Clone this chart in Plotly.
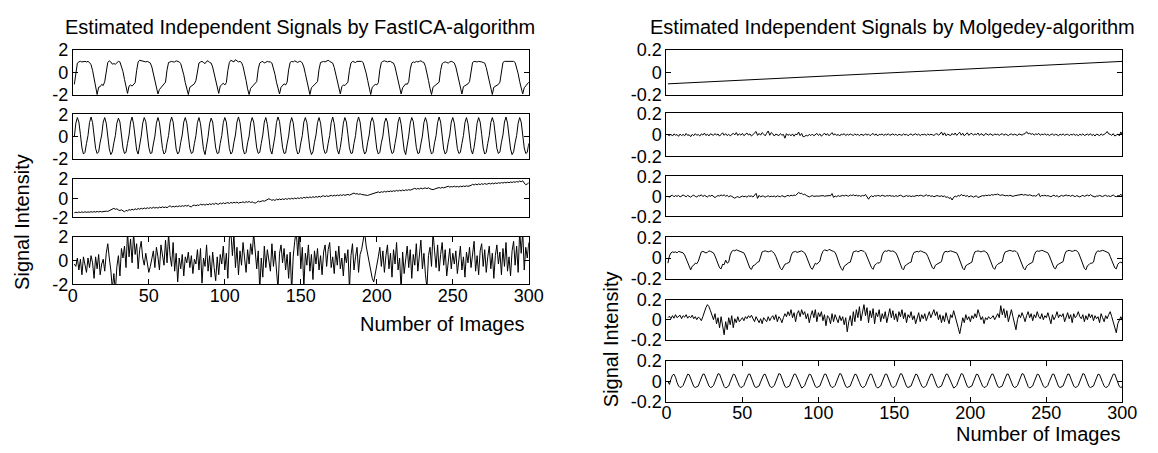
import plotly.graph_objects as go

# ---------------- data ----------------
fastica_1 = [
    -1.05, 0.15, 0.85, 0.95, 1.0, 0.95, 1.0, 1.0, 0.95, 1.0, 0.9, 0.7, 0.2, -0.5, -1.2, -1.95, -1.3, -1.25, -1.05, -1.15,
    -0.8, 0.3, 0.9, 1.05, 0.95, 0.75, 0.8, 0.75, 0.9, 1.0, 0.95, 0.6, 0.1, -0.6, -1.3, -1.85, -1.2, -1.1, -1.2, -1.0,
    -0.9, 0.2, 0.95, 1.1, 1.05, 1.0, 1.0, 0.95, 1.0, 0.9, 0.85, 0.5, -0.1, -0.8, -1.4, -1.9, -1.5, -1.35, -1.2, -1.05,
    -0.85, 0.25, 0.9, 0.95, 1.0, 0.95, 0.95, 1.05, 1.0, 0.95, 0.8, 0.4, -0.2, -0.9, -1.5, -1.95, -1.3, -1.2, -1.15, -1.0,
    -0.7, 0.3, 0.85, 0.95, 1.0, 0.9, 0.8, 1.0, 1.05, 0.9, 0.85, 0.5, -0.1, -0.8, -1.4, -1.85, -1.2, -1.1, -0.95, -1.1,
    -0.9, 0.2, 0.9, 1.1, 1.0, 0.95, 1.15, 1.0, 0.95, 1.0, 0.9, 0.55, 0.0, -0.7, -1.45, -1.95, -1.4, -1.25, -1.15, -1.0,
    -0.8, 0.3, 0.85, 0.95, 1.0, 0.85, 0.9, 1.0, 0.95, 0.95, 0.85, 0.45, -0.15, -0.85, -1.5, -1.9, -1.3, -1.15, -1.0, -1.1,
    -0.85, 0.25, 0.9, 1.0, 0.95, 1.05, 1.0, 0.9, 1.0, 1.0, 0.85, 0.5, -0.1, -0.75, -1.4, -1.95, -1.35, -1.2, -1.05, -0.95,
    -0.8, 0.3, 0.9, 0.95, 1.0, 0.95, 1.05, 1.1, 1.0, 0.9, 0.85, 0.45, -0.1, -0.8, -1.45, -1.9, -1.25, -1.1, -1.15, -1.0,
    -0.85, 0.2, 0.85, 1.0, 0.95, 0.9, 1.0, 1.0, 0.95, 1.0, 0.9, 0.5, -0.05, -0.7, -1.4, -1.95, -1.3, -1.2, -1.05, -1.1,
    -0.9, 0.25, 0.9, 1.0, 1.05, 1.0, 0.95, 1.0, 1.0, 0.9, 0.85, 0.5, -0.1, -0.8, -1.45, -1.9, -1.35, -1.15, -1.0, -1.05,
    -0.8, 0.3, 0.85, 0.95, 0.9, 1.0, 0.95, 1.0, 1.05, 0.95, 0.9, 0.55, 0.0, -0.7, -1.4, -1.95, -1.3, -1.2, -1.1, -1.0,
    -0.85, 0.2, 0.8, 0.9, 0.95, 0.9, 0.85, 0.95, 1.0, 0.95, 0.85, 0.5, -0.1, -0.8, -1.45, -1.9, -1.25, -1.15, -1.05, -1.0,
    -0.8, 0.3, 0.9, 1.0, 0.95, 0.95, 1.0, 1.0, 0.95, 0.9, 0.85, 0.45, -0.15, -0.85, -1.5, -1.95, -1.3, -1.2, -1.1, -1.05,
    -0.85, 0.25, 0.9, 1.0, 1.0, 0.95, 1.0, 0.95, 1.0, 1.0, 0.9, 0.5, -0.1, -0.8, -1.45, -1.9, -1.35, -1.2, -1.0, -0.85,
]

fastica_2 = [
    0.0, 1.2, 1.7, 1.3, 0.2, -1.0, -1.55, -1.4, -0.6,
    0.1, 1.25, 1.75, 1.25, 0.1, -1.05, -1.5, -1.35, -0.5,
    0.15, 1.3, 1.7, 1.2, 0.05, -1.1, -1.6, -1.35, -0.55,
    0.1, 1.2, 1.65, 1.3, 0.2, -1.0, -1.5, -1.4, -0.6,
    0.15, 1.3, 1.75, 1.1, -0.1, -1.2, -1.55, -0.9,
    0.05, 1.2, 1.7, 1.35, 0.25, -0.95, -1.5, -1.45, -0.65,
    0.05, 1.2, 1.7, 1.25, 0.15, -1.05, -1.55, -1.4, -0.55,
    0.1, 1.25, 1.75, 1.3, 0.1, -1.1, -1.55, -1.35, -0.5,
    0.15, 1.3, 1.7, 1.2, 0.1, -1.05, -1.5, -1.4, -0.6,
    0.1, 1.25, 1.7, 1.15, -0.05, -1.15, -1.6, -0.95,
    0.0, 1.15, 1.65, 1.3, 0.2, -1.0, -1.5, -1.45, -0.6,
    0.1, 1.25, 1.7, 1.3, 0.15, -1.05, -1.55, -1.35, -0.5,
    0.15, 1.3, 1.75, 1.25, 0.05, -1.1, -1.55, -1.4, -0.55,
    0.05, 1.2, 1.7, 1.3, 0.2, -1.0, -1.5, -1.4, -0.6,
    0.15, 1.3, 1.7, 1.1, -0.1, -1.2, -1.55, -0.9,
    0.05, 1.25, 1.75, 1.35, 0.25, -0.95, -1.5, -1.45, -0.65,
    0.05, 1.2, 1.7, 1.25, 0.1, -1.05, -1.55, -1.4, -0.55,
    0.1, 1.3, 1.7, 1.25, 0.1, -1.1, -1.6, -1.35, -0.5,
    0.15, 1.25, 1.7, 1.2, 0.1, -1.05, -1.5, -1.4, -0.6,
    0.1, 1.25, 1.75, 1.15, -0.05, -1.15, -1.55, -0.95,
    0.0, 1.2, 1.7, 1.3, 0.2, -1.0, -1.5, -1.45, -0.6,
    0.1, 1.25, 1.75, 1.3, 0.15, -1.05, -1.55, -1.35, -0.5,
    0.15, 1.3, 1.7, 1.25, 0.05, -1.1, -1.55, -1.4, -0.55,
    0.05, 1.2, 1.65, 1.3, 0.2, -1.0, -1.5, -1.4, -0.6,
    0.15, 1.3, 1.75, 1.1, -0.1, -1.2, -1.6, -0.9,
    0.05, 1.2, 1.7, 1.35, 0.25, -0.95, -1.5, -1.45, -0.65,
    0.05, 1.25, 1.7, 1.25, 0.15, -1.05, -1.55, -1.4, -0.55,
    0.1, 1.25, 1.75, 1.3, 0.1, -1.1, -1.55, -1.35, -0.5,
    0.15, 1.3, 1.7, 1.2, 0.1, -1.05, -1.5, -1.4, -0.6,
    0.1, 1.25, 1.7, 1.15, -0.05, -1.15, -1.55, -0.95,
    0.0, 1.2, 1.7, 1.3, 0.2, -1.0, -1.55, -1.4, -0.6,
    0.1, 1.25, 1.7, 1.25, 0.1, -1.05, -1.5, -1.35, -0.5,
    0.15, 1.3, 1.75, 1.2, 0.05, -1.1, -1.6, -1.35, -0.55,
    0.1, 1.2, 1.7, 1.3, 0.2, -1.0, -1.5, -1.4, -0.6,
]

fastica_3 = [
    -1.52, -1.46, -1.5, -1.43, -1.49, -1.42, -1.48, -1.41, -1.47, -1.42,
    -1.46, -1.4, -1.45, -1.39, -1.44, -1.38, -1.43, -1.37, -1.42, -1.38,
    -1.4, -1.34, -1.38, -1.3, -1.2, -1.12, -1.05, -1.15, -1.1, -1.22,
    -1.28, -1.2, -1.35, -1.42, -1.25, -1.32, -1.18, -1.24, -1.15, -1.22,
    -1.1, -1.18, -1.07, -1.14, -1.04, -1.12, -1.01, -1.09, -0.99, -1.06,
    -0.97, -1.05, -0.94, -1.02, -0.96, -1.03, -0.92, -0.99, -0.89, -0.97,
    -0.91, -0.98, -0.87, -0.78, -0.91, -0.84, -0.9, -0.81, -0.88, -0.79,
    -0.86, -0.77, -0.84, -0.75, -0.82, -0.73, -0.86, -0.89, -0.75, -0.71,
    -0.78, -0.69, -0.76, -0.6, -0.7, -0.63, -0.72, -0.61, -0.68, -0.57,
    -0.66, -0.55, -0.64, -0.51, -0.6, -0.62, -0.49, -0.58, -0.47, -0.56,
    -0.49, -0.45, -0.54, -0.43, -0.5, -0.41, -0.48, -0.39, -0.52, -0.43,
    -0.44, -0.37, -0.46, -0.35, -0.42, -0.33, -0.44, -0.37, -0.46, -0.5,
    -0.42, -0.29, -0.37, -0.27, -0.25, -0.31, -0.21, -0.2, -0.05, -0.12,
    -0.21, -0.14, -0.23, -0.09, -0.17, -0.07, -0.15, -0.05, -0.13, -0.03,
    -0.11, -0.01, -0.09, 0.01, -0.07, 0.03, -0.05, 0.05, -0.03, 0.07,
    -0.01, 0.11, 0.03, 0.13, 0.05, 0.15, 0.07, 0.17, 0.09, 0.19,
    0.11, 0.21, 0.13, 0.23, 0.26, 0.17, 0.27, 0.19, 0.29, 0.31,
    0.23, 0.33, 0.25, 0.35, 0.27, 0.37, 0.29, 0.39, 0.31, 0.36,
    0.41, 0.33, 0.43, 0.5, 0.55, 0.45, 0.49, 0.41, 0.47, 0.4,
    0.36, 0.32, 0.28, 0.3, 0.36, 0.42, 0.48, 0.54, 0.58, 0.63,
    0.67, 0.59, 0.69, 0.63, 0.73, 0.65, 0.75, 0.69, 0.77, 0.71,
    0.79, 0.73, 0.83, 0.75, 0.85, 0.77, 0.87, 0.79, 0.89, 0.83,
    0.91, 0.85, 0.95, 0.98, 1.05, 0.95, 1.03, 0.97, 1.07, 0.99,
    1.05, 1.08, 1.01, 1.1, 0.99, 0.94, 0.9, 0.97, 1.03, 1.08,
    1.13, 1.05, 1.15, 1.09, 1.17, 1.2, 1.26, 1.17, 1.23, 1.19,
    1.27, 1.19, 1.25, 1.17, 1.27, 1.21, 1.29, 1.23, 1.31, 1.25,
    1.29, 1.35, 1.46, 1.39, 1.49, 1.41, 1.51, 1.43, 1.53, 1.45,
    1.55, 1.47, 1.51, 1.57, 1.49, 1.59, 1.51, 1.61, 1.54, 1.63,
    1.57, 1.65, 1.59, 1.67, 1.61, 1.69, 1.63, 1.71, 1.65, 1.73,
    1.67, 1.76, 1.69, 1.81, 1.73, 1.83, 1.6, 1.42, 1.5, 1.62,
]

fastica_4 = [
    -0.3, -0.5, 0.2, -0.8, 0.1, -1.2, 0.3, -0.4, -1.0, 0.2,
    -0.6, 0.4, -0.2, -1.5, 0.3, -0.7, 0.5, -1.2, -0.3, 0.1,
    -0.9, 0.6, 1.4, 0.2, -0.8, -2.4, -1.1, -2.6, -0.5, 0.4,
    -1.3, 1.0, 0.2, 1.2, -0.6, 2.4, 0.3, 1.8, -0.2, 2.3,
    0.5, 1.4, -0.7, 0.9, 1.6, 0.2, -0.4, 0.6, -0.3, -1.0,
    -0.5, 0.1, 0.8, -0.6, 1.1, 0.3, -0.8, 1.3, 0.6, -0.4,
    1.7, -0.2, 2.2, 0.4, -0.5, 1.5, -0.9, 0.6, -1.8, 0.2,
    -0.7, 0.5, -1.3, 0.3, -0.2, 0.7, -0.6, 0.4, -1.1, 0.1,
    -0.3, 0.9, -0.8, 1.0, -1.9, 0.2, -0.5, 1.3, -0.9, 0.4,
    -1.4, 0.7, -0.6, -1.7, 0.3, -1.2, 0.5, -0.3, 1.2, -0.8,
    0.6, -1.5, 1.8, 2.4, 0.4, 2.2, -0.6, 1.1, -1.2, 0.8,
    -0.4, 1.5, 0.2, -1.0, 0.9, -0.3, 1.4, 0.5, 2.3, 1.0,
    -0.7, 0.8, -2.5, 0.2, -1.4, 1.2, -0.6, 0.9, 0.1, -0.9,
    1.4, -0.5, 0.8, -1.3, -2.4, 0.6, 1.3, -0.2, 1.0, -0.8,
    0.5, -1.5, 0.7, -2.6, 0.3, 1.6, 2.5, 0.4, 2.6, -0.7,
    1.1, -2.3, 0.6, -0.4, 1.3, -0.9, 0.5, -1.6, 0.8, -0.3,
    1.0, -0.8, 0.4, -1.2, 0.7, 1.3, -0.5, 0.9, 1.5, -0.6,
    0.3, -1.1, 0.8, -0.4, 1.2, -0.7, 0.2, -1.3, 0.6, -0.2,
    0.9, -2.4, 0.4, 1.4, -0.8, 0.3, 1.1, -1.0, 0.5, 0.9,
    1.6, 2.4, 1.2, 0.5, -0.3, -0.9, -1.5, -1.8, -1.2, -0.6,
    0.3, 1.1, -0.5, 0.8, -1.0, 0.4, 1.3, -0.7, 0.6, -1.4,
    0.9, -0.3, 1.5, -0.8, 0.2, -2.5, 0.7, -1.1, 0.4, 1.2,
    -0.6, 0.9, -1.5, 0.5, -0.4, 1.4, -0.9, 0.3, 1.7, -0.7,
    0.6, -1.2, -2.3, 0.4, 1.1, -0.5, 2.4, 0.8, -0.6, 1.3,
    -0.9, 0.5, 1.5, -0.4, 0.9, -1.3, 0.2, 1.0, -0.7, 0.6,
    -0.3, 0.8, -1.1, 0.4, 1.2, -0.8, 0.3, -1.4, 0.7, -0.2,
    1.1, -0.6, 0.5, 1.6, -0.9, 0.4, -1.2, 0.8, 1.4, -0.5,
    0.9, -1.0, 0.3, 1.2, -0.7, 0.6, -1.5, 0.4, 1.3, -0.3,
    0.7, -1.2, 1.0, -0.5, 1.5, -0.9, 0.3, -1.3, 0.8, 1.6,
    -0.4, 1.2, -1.0, 2.5, 0.6, 2.4, -0.8, 1.1, 0.2, 1.5,
]

molgedey_1_x = [1, 50, 100, 150, 200, 250, 300]
molgedey_1 = [-0.1, -0.067, -0.034, 0.0, 0.033, 0.067, 0.1]

molgedey_2 = [
    0.0, -0.01, 0.005, -0.012, 0.008, -0.004, 0.002, -0.015, 0.006, -0.008,
    0.003, -0.01, 0.012, -0.006, 0.0, -0.018, 0.004, -0.009, 0.01, -0.005,
    0.002, -0.012, 0.008, -0.003, 0.015, -0.007, 0.005, -0.011, 0.009, 0.0,
    -0.006, 0.011, -0.004, 0.007, -0.013, 0.003, 0.018, -0.005, 0.01, -0.008,
    0.004, -0.01, 0.006, 0.013, -0.002, 0.02, -0.007, 0.009, -0.004, 0.012,
    -0.009, 0.005, 0.016, -0.003, 0.008, -0.012, 0.004, 0.01, 0.03, -0.006,
    0.012, -0.004, 0.02, 0.006, -0.01, 0.014, 0.035, -0.005, 0.02, 0.008,
    -0.012, 0.006, 0.0, -0.008, 0.01, -0.004, 0.003, -0.032, 0.01, -0.006,
    0.004, -0.01, 0.008, -0.014, 0.006, 0.0, 0.025, -0.008, 0.012, -0.02,
    -0.015, -0.005, -0.012, 0.004, -0.008, 0.006, -0.01, 0.002, 0.012, -0.006,
    0.008, -0.014, 0.005, 0.015, -0.004, 0.01, -0.01, 0.006, 0.02, -0.003,
    0.009, -0.007, 0.004, -0.012, 0.006, 0.0, 0.01, -0.008, 0.005, -0.004,
    0.007, 0.0, -0.006, 0.008, -0.003, 0.005, -0.01, 0.004, 0.0, -0.006,
    0.009, -0.004, 0.006, -0.009, 0.003, 0.012, -0.005, 0.008, -0.011, 0.004,
    0.0, 0.007, -0.008, 0.005, -0.003, 0.01, -0.006, 0.002, 0.008, -0.004,
    0.006, -0.009, 0.004, 0.0, -0.006, 0.008, -0.003, 0.005, -0.01, 0.003,
    0.007, -0.005, 0.002, 0.009, -0.004, 0.006, -0.008, 0.003, 0.0, 0.005,
    -0.006, 0.008, -0.003, 0.004, 0.0, -0.007, 0.005, 0.01, -0.004, 0.006,
    0.025, -0.004, 0.018, -0.01, 0.006, 0.002, -0.008, 0.012, -0.003, 0.016,
    -0.006, 0.01, 0.022, -0.004, 0.014, -0.01, 0.005, 0.018, -0.006, 0.009,
    0.012, -0.004, 0.008, 0.0, 0.016, -0.006, 0.01, 0.004, -0.008, 0.012,
    0.006, -0.003, 0.009, 0.002, -0.007, 0.008, 0.0, 0.005, -0.006, 0.004,
    0.01, -0.005, 0.006, 0.0, -0.008, 0.004, 0.007, -0.003, 0.005, 0.0,
    -0.006, 0.008, 0.003, -0.004, 0.006, 0.01, 0.028, 0.008, 0.014, 0.004,
    0.01, -0.003, 0.008, 0.002, 0.012, -0.005, 0.006, 0.0, 0.009, -0.004,
    0.005, -0.008, 0.003, 0.007, -0.006, 0.004, 0.0, -0.01, 0.006, -0.003,
    0.008, -0.005, 0.002, 0.006, -0.009, 0.004, -0.002, 0.007, -0.006, 0.003,
    -0.01, 0.005, -0.004, 0.008, -0.007, 0.002, 0.006, -0.005, 0.01, -0.008,
    0.004, -0.012, 0.006, 0.0, -0.009, 0.008, -0.004, 0.003, 0.012, 0.03,
    0.008, 0.004, -0.006, 0.01, -0.012, -0.004, 0.006, -0.01, 0.026, 0.0,
]

molgedey_3 = [
    0.002, -0.008, 0.006, 0.012, -0.004, 0.008, 0.0, 0.01, -0.006, 0.004,
    0.014, 0.006, -0.004, 0.01, 0.002, -0.008, 0.006, 0.012, 0.0, -0.006,
    0.008, 0.004, 0.016, -0.002, 0.01, 0.004, -0.006, 0.008, 0.002, 0.012,
    -0.004, -0.012, 0.0, 0.008, 0.004, 0.014, 0.006, 0.016, 0.002, 0.01,
    -0.004, 0.006, 0.0, -0.01, -0.018, -0.008, -0.002, -0.012, -0.006, 0.004,
    -0.004, 0.002, -0.008, 0.006, 0.0, 0.004, -0.006, 0.008, 0.03, -0.02,
    0.01, -0.006, 0.004, 0.002, -0.008, 0.0, 0.006, -0.004, 0.002, -0.002,
    0.004, -0.006, 0.006, 0.0, -0.004, 0.008, 0.002, -0.006, 0.004, 0.01,
    0.002, 0.012, 0.006, 0.014, 0.008, 0.02, 0.04, 0.028, 0.032, 0.016,
    0.022, 0.01, 0.004, -0.006, 0.002, 0.008, 0.0, 0.006, 0.004, 0.002,
    0.006, 0.004, 0.008, 0.002, 0.006, 0.004, 0.008, 0.006, 0.028, -0.01,
    0.004, -0.004, 0.008, 0.0, 0.006, 0.01, 0.004, 0.012, 0.006, 0.002,
    0.014, 0.008, 0.016, 0.006, 0.012, 0.004, 0.008, 0.0, 0.01, 0.004,
    0.02, -0.012, -0.028, -0.004, 0.006, -0.004, 0.008, 0.002, 0.01, 0.006,
    0.002, 0.012, 0.006, 0.0, 0.008, 0.004, 0.01, 0.002, 0.006, -0.002,
    0.008, 0.0, 0.006, 0.012, 0.004, -0.004, 0.002, 0.008, 0.0, 0.006,
    -0.002, 0.004, 0.0, 0.006, 0.01, 0.004, 0.012, 0.008, 0.002, 0.006,
    0.016, 0.004, 0.01, 0.0, 0.006, -0.004, 0.002, 0.008, 0.004, 0.0,
    0.006, -0.002, 0.004, -0.01, -0.004, -0.02, -0.012, -0.036, -0.008, 0.002,
    -0.004, 0.01, 0.002, 0.02, 0.006, 0.012, 0.0, 0.008, -0.006, 0.004,
    0.002, -0.008, 0.0, 0.006, -0.012, -0.004, 0.002, 0.008, 0.004, 0.012,
    0.006, 0.014, 0.008, 0.018, 0.012, 0.02, 0.016, 0.024, 0.014, 0.01,
    0.016, 0.012, 0.006, 0.01, 0.004, 0.012, 0.008, 0.0, 0.006, 0.01,
    0.014, 0.018, 0.016, 0.02, 0.012, 0.018, 0.014, 0.01, 0.016, 0.012,
    0.004, 0.008, 0.002, 0.012, 0.028, -0.004, 0.01, 0.006, 0.012, 0.004,
    0.008, 0.002, -0.004, 0.006, 0.012, 0.0, 0.008, -0.006, 0.004, 0.01,
    0.002, 0.006, 0.014, 0.006, 0.01, 0.0, 0.012, 0.004, -0.002, 0.008,
    0.002, -0.006, 0.004, 0.01, 0.0, 0.008, 0.014, 0.004, 0.018, 0.006,
    0.0, -0.006, 0.004, 0.002, 0.01, 0.004, -0.002, 0.006, 0.012, 0.0,
    0.006, -0.002, 0.008, 0.014, 0.002, -0.004, 0.008, 0.004, 0.022, 0.002,
]

molgedey_4 = [
    -0.05, 0.02, 0.05, 0.06, 0.055, 0.06, 0.05, 0.065, 0.06, 0.055, 0.05, 0.03, -0.01, -0.05, -0.09, -0.115, -0.08, -0.07, -0.05, -0.055,
    -0.03, 0.03, 0.06, 0.065, 0.06, 0.05, 0.055, 0.07, 0.065, 0.06, 0.05, 0.02, -0.02, -0.06, -0.095, -0.105, -0.06, -0.065, -0.02, -0.05,
    -0.04, 0.03, 0.065, 0.075, 0.07, 0.08, 0.075, 0.07, 0.065, 0.06, 0.05, 0.02, -0.02, -0.07, -0.1, -0.11, -0.075, -0.07, -0.05, -0.04,
    -0.035, 0.025, 0.06, 0.065, 0.07, 0.065, 0.06, 0.065, 0.07, 0.06, 0.045, 0.015, -0.03, -0.07, -0.1, -0.115, -0.08, -0.06, -0.055, -0.05,
    -0.04, 0.02, 0.055, 0.06, 0.065, 0.055, 0.06, 0.065, 0.07, 0.06, 0.05, 0.02, -0.02, -0.06, -0.095, -0.11, -0.07, -0.05, -0.06, -0.045,
    -0.03, 0.03, 0.065, 0.08, 0.075, 0.07, 0.085, 0.075, 0.07, 0.065, 0.055, 0.02, -0.03, -0.07, -0.1, -0.12, -0.08, -0.065, -0.05, -0.045,
    -0.04, 0.025, 0.06, 0.065, 0.07, 0.06, 0.065, 0.075, 0.07, 0.065, 0.05, 0.015, -0.025, -0.065, -0.095, -0.11, -0.07, -0.06, -0.045, -0.05,
    -0.035, 0.03, 0.06, 0.07, 0.065, 0.075, 0.07, 0.065, 0.07, 0.06, 0.05, 0.02, -0.02, -0.06, -0.1, -0.115, -0.075, -0.065, -0.05, -0.045,
    -0.04, 0.025, 0.055, 0.06, 0.065, 0.06, 0.07, 0.065, 0.06, 0.055, 0.045, 0.015, -0.025, -0.065, -0.095, -0.105, -0.07, -0.06, -0.05, -0.045,
    -0.035, 0.03, 0.06, 0.065, 0.06, 0.065, 0.07, 0.065, 0.06, 0.06, 0.05, 0.02, -0.02, -0.06, -0.1, -0.115, -0.075, -0.065, -0.055, -0.05,
    -0.04, 0.025, 0.06, 0.065, 0.07, 0.065, 0.06, 0.065, 0.07, 0.06, 0.05, 0.02, -0.02, -0.06, -0.095, -0.11, -0.075, -0.06, -0.05, -0.045,
    -0.035, 0.03, 0.06, 0.065, 0.07, 0.075, 0.07, 0.065, 0.07, 0.065, 0.05, 0.015, -0.025, -0.065, -0.1, -0.115, -0.08, -0.065, -0.055, -0.05,
    -0.04, 0.025, 0.06, 0.07, 0.065, 0.07, 0.075, 0.07, 0.065, 0.06, 0.05, 0.02, -0.02, -0.06, -0.095, -0.105, -0.07, -0.06, -0.05, -0.045,
    -0.035, 0.03, 0.065, 0.07, 0.075, 0.07, 0.065, 0.07, 0.075, 0.07, 0.055, 0.02, -0.025, -0.065, -0.1, -0.115, -0.075, -0.065, -0.05, -0.05,
    -0.04, 0.025, 0.06, 0.07, 0.065, 0.07, 0.075, 0.07, 0.065, 0.06, 0.05, 0.015, -0.02, -0.06, -0.095, -0.105, -0.06, -0.045, -0.04, -0.05,
]

molgedey_5 = [
    0.02, 0.035, 0.01, 0.04, 0.015, 0.05, 0.02, 0.03, 0.045, 0.01,
    0.04, 0.025, 0.05, 0.015, 0.035, 0.02, 0.045, 0.01, 0.03, 0.0,
    0.025, 0.015, -0.01, 0.03, 0.08, 0.12, 0.15, 0.13, 0.09, 0.05,
    0.0, 0.06, -0.04, 0.02, -0.08, 0.03, -0.06, -0.15, -0.02, -0.1,
    0.02, -0.05, 0.04, -0.08, 0.01, -0.03, 0.03, -0.02, 0.0, 0.02,
    -0.01, 0.03, 0.01, 0.04, 0.02, 0.045, 0.01, -0.02, 0.03, 0.0,
    -0.03, 0.01, -0.04, 0.02, 0.0, -0.02, 0.03, -0.01, 0.02, 0.04,
    0.0, 0.05, -0.02, 0.03, 0.01, -0.03, 0.02, 0.06, 0.03, 0.08,
    0.04, 0.1, 0.02, 0.07, -0.02, 0.06, 0.09, 0.03, 0.1, 0.05,
    0.08, 0.01, 0.06, -0.03, 0.04, 0.09, 0.02, 0.1, -0.02, 0.07,
    0.03, 0.08, -0.01, 0.05, -0.06, 0.04, 0.02, -0.04, 0.06, -0.02,
    0.05, 0.01, -0.03, 0.04, -0.01, 0.03, -0.05, 0.02, -0.12, -0.02,
    0.04, -0.06, 0.08, -0.02, 0.1, 0.02, 0.13, -0.01, 0.09, 0.15,
    0.04, 0.12, -0.03, 0.09, 0.02, 0.11, -0.04, 0.07, 0.03, 0.1,
    -0.02, 0.06, 0.01, 0.08, -0.03, 0.05, 0.11, 0.02, 0.09, 0.0,
    0.06, -0.02, 0.08, 0.03, 0.1, 0.01, 0.07, -0.03, 0.05, 0.02,
    0.08, 0.0, 0.04, -0.04, 0.03, 0.07, -0.02, 0.05, 0.01, 0.06,
    -0.01, 0.04, 0.08, 0.02, 0.06, 0.1, 0.04, 0.08, 0.0, 0.05,
    -0.03, 0.04, -0.02, 0.07, 0.01, -0.04, 0.05, 0.02, 0.09, 0.04,
    -0.02, -0.08, -0.14, -0.06, 0.02, -0.03, 0.05, 0.0, 0.03, -0.02,
    0.04, 0.01, 0.06, 0.02, 0.1, 0.05, 0.0, 0.03, -0.04, 0.02,
    0.0, 0.03, 0.01, 0.02, 0.04, 0.0, 0.03, 0.06, 0.02, 0.14,
    0.05, 0.11, 0.02, 0.09, -0.02, 0.06, 0.1, 0.03, -0.03, -0.1,
    0.0, 0.05, 0.02, 0.07, 0.03, -0.02, 0.04, 0.08, 0.02, 0.06,
    -0.01, 0.05, 0.02, 0.08, 0.03, 0.01, 0.06, 0.0, 0.04, 0.02,
    0.07, 0.01, -0.04, 0.05, 0.0, 0.03, 0.08, 0.02, 0.05, 0.03,
    0.06, -0.02, 0.04, 0.07, 0.01, 0.05, -0.03, 0.06, 0.02, 0.04,
    0.08, 0.03, 0.01, 0.05, -0.02, 0.04, 0.0, 0.06, 0.02, 0.05,
    -0.01, 0.04, 0.01, 0.03, -0.03, 0.06, 0.02, -0.02, 0.04, 0.01,
    0.05, 0.08, 0.03, -0.02, -0.08, -0.13, -0.04, 0.0, 0.03, -0.01,
]

molgedey_6 = [
    0.0, -0.03, 0.02, 0.06, 0.07, 0.04, -0.01, -0.045, -0.06, -0.055,
    -0.04, 0.0, 0.045, 0.07, 0.065, 0.03, -0.015, -0.05, -0.06, -0.05,
    -0.045, -0.005, 0.04, 0.07, 0.07, 0.035, -0.01, -0.045, -0.06, -0.055,
    -0.04, 0.0, 0.045, 0.075, 0.07, 0.03, -0.015, -0.05, -0.065, -0.05,
    -0.045, -0.005, 0.04, 0.07, 0.065, 0.035, -0.01, -0.045, -0.06, -0.055,
    -0.04, 0.0, 0.045, 0.07, 0.07, 0.03, -0.015, -0.05, -0.06, -0.05,
    -0.045, -0.005, 0.04, 0.065, 0.07, 0.035, -0.01, -0.045, -0.06, -0.055,
    -0.04, 0.0, 0.045, 0.075, 0.07, 0.03, -0.015, -0.05, -0.06, -0.05,
    -0.045, -0.005, 0.04, 0.07, 0.07, 0.035, -0.01, -0.045, -0.065, -0.055,
    -0.04, 0.0, 0.045, 0.07, 0.065, 0.03, -0.015, -0.05, -0.06, -0.05,
    -0.045, -0.005, 0.04, 0.07, 0.07, 0.035, -0.01, -0.045, -0.06, -0.055,
    -0.04, 0.0, 0.045, 0.075, 0.07, 0.03, -0.015, -0.05, -0.06, -0.05,
    -0.045, -0.005, 0.04, 0.07, 0.065, 0.035, -0.01, -0.045, -0.06, -0.055,
    -0.04, 0.0, 0.045, 0.07, 0.07, 0.03, -0.015, -0.05, -0.065, -0.05,
    -0.045, -0.005, 0.04, 0.07, 0.07, 0.035, -0.01, -0.045, -0.06, -0.055,
    -0.04, 0.0, 0.045, 0.075, 0.07, 0.03, -0.015, -0.05, -0.06, -0.05,
    -0.045, -0.005, 0.04, 0.07, 0.065, 0.035, -0.01, -0.045, -0.06, -0.055,
    -0.04, 0.0, 0.045, 0.07, 0.07, 0.03, -0.015, -0.05, -0.06, -0.05,
    -0.045, -0.005, 0.04, 0.07, 0.07, 0.035, -0.01, -0.045, -0.065, -0.055,
    -0.04, 0.0, 0.045, 0.075, 0.07, 0.03, -0.015, -0.05, -0.06, -0.05,
    -0.045, -0.005, 0.04, 0.07, 0.065, 0.035, -0.01, -0.045, -0.06, -0.055,
    -0.04, 0.0, 0.045, 0.07, 0.07, 0.03, -0.015, -0.05, -0.06, -0.05,
    -0.045, -0.005, 0.04, 0.07, 0.07, 0.035, -0.01, -0.045, -0.06, -0.055,
    -0.04, 0.0, 0.045, 0.075, 0.07, 0.03, -0.015, -0.05, -0.065, -0.05,
    -0.045, -0.005, 0.04, 0.07, 0.065, 0.035, -0.01, -0.045, -0.06, -0.055,
    -0.04, 0.0, 0.045, 0.07, 0.07, 0.03, -0.015, -0.05, -0.06, -0.05,
    -0.045, -0.005, 0.04, 0.07, 0.07, 0.035, -0.01, -0.045, -0.06, -0.055,
    -0.04, 0.0, 0.045, 0.075, 0.07, 0.03, -0.015, -0.05, -0.06, -0.05,
    -0.045, -0.005, 0.04, 0.07, 0.065, 0.035, -0.01, -0.045, -0.06, -0.055,
    -0.04, 0.0, 0.045, 0.07, 0.07, 0.03, -0.015, -0.05, -0.06, -0.05,
]

x_ticks = [0, 50, 100, 150, 200, 250, 300]
fastica_yticks = [-2, 0, 2]
fastica_yticktext = ["-2", "0", "2"]
molgedey_yticks = [-0.2, 0, 0.2]
molgedey_yticktext = ["-0.2", "0", "0.2"]

title_left = "Estimated Independent Signals by FastICA-algorithm"
title_right = "Estimated Independent Signals by Molgedey-algorithm"
xlabel = "Number of Images"
ylabel = "Signal Intensity"

# ---------------- layout ----------------
W, H = 1158, 453
FONT = "Liberation Sans, Arial, Helvetica, sans-serif"
TICK_SIZE = 18
LABEL_SIZE = 20

def idx(vals):
    return list(range(1, len(vals) + 1))

left_series = [
    (idx(fastica_1), fastica_1),
    (idx(fastica_2), fastica_2),
    (idx(fastica_3), fastica_3),
    (idx(fastica_4), fastica_4),
]
right_series = [
    (molgedey_1_x, molgedey_1),
    (idx(molgedey_2), molgedey_2),
    (idx(molgedey_3), molgedey_3),
    (idx(molgedey_4), molgedey_4),
    (idx(molgedey_5), molgedey_5),
    (idx(molgedey_6), molgedey_6),
]

left_px_x = (69, 533)
right_px_x = (673, 1137)
left_px_y = [(42, 89), (109, 156), (177, 217), (237, 287)]
right_px_y = [(42, 89), (108, 153), (174, 216), (238, 281), (303, 345), (367, 410)]

fig = go.Figure()
layout = dict(
    width=W, height=H,
    margin=dict(l=0, r=0, t=0, b=0),
    paper_bgcolor="white", plot_bgcolor="white",
    showlegend=False,
    font=dict(family=FONT, size=TICK_SIZE, color="black"),
)

def add_panel(start, series, px_x, px_y, yr, yticks, yticktext):
    n = len(series)
    for i, ((xs, ys), (top, bot)) in enumerate(zip(series, px_y)):
        k = start + i
        fig.add_trace(go.Scatter(
            x=xs, y=ys, mode="lines",
            line=dict(color="black", width=1),
            xaxis=f"x{k}", yaxis=f"y{k}", hoverinfo="skip",
        ))
        last = (i == n - 1)
        xa = dict(
            domain=[px_x[0] / W, px_x[1] / W], range=[0, 300], anchor=f"y{k}",
            showline=True, linecolor="black", linewidth=1, mirror="ticks" if last else True,
            showgrid=False, zeroline=False,
            ticks="inside" if last else "", ticklen=5, tickcolor="black", tickwidth=1,
            tickvals=x_ticks, showticklabels=last, ticklabelstandoff=-5,
            tickfont=dict(family=FONT, size=TICK_SIZE, color="black"),
        )
        ya = dict(
            domain=[1 - bot / H, 1 - top / H], range=yr, anchor=f"x{k}",
            showline=True, linecolor="black", linewidth=1, mirror="ticks",
            showgrid=False, zeroline=False,
            ticks="inside", ticklen=5, tickcolor="black", tickwidth=1,
            tickvals=yticks, ticktext=yticktext,
            tickfont=dict(family=FONT, size=TICK_SIZE, color="black"),
        )
        sx = "" if k == 1 else str(k)
        layout[f"xaxis{sx}"] = xa
        layout[f"yaxis{sx}"] = ya

add_panel(1, left_series, left_px_x, left_px_y, [-2, 2], fastica_yticks, fastica_yticktext)
add_panel(5, right_series, right_px_x, right_px_y, [-0.2, 0.2], molgedey_yticks, molgedey_yticktext)

def ann(text, px, py, angle=0):
    return dict(text=text, x=px / W, y=1 - py / H, xref="paper", yref="paper",
                xanchor="center", yanchor="middle", showarrow=False, textangle=angle,
                font=dict(family=FONT, size=LABEL_SIZE, color="black"))

layout["annotations"] = [
    ann(title_left, 300, 18),
    ann(title_right, 903, 18),
    ann(xlabel, 445, 328),
    ann(xlabel, 1052, 444),
    ann(ylabel, 17, 222, -90),
    ann(ylabel, 616, 344, -90),
]

fig.update_layout(**layout)
fig.write_html("out.html")
